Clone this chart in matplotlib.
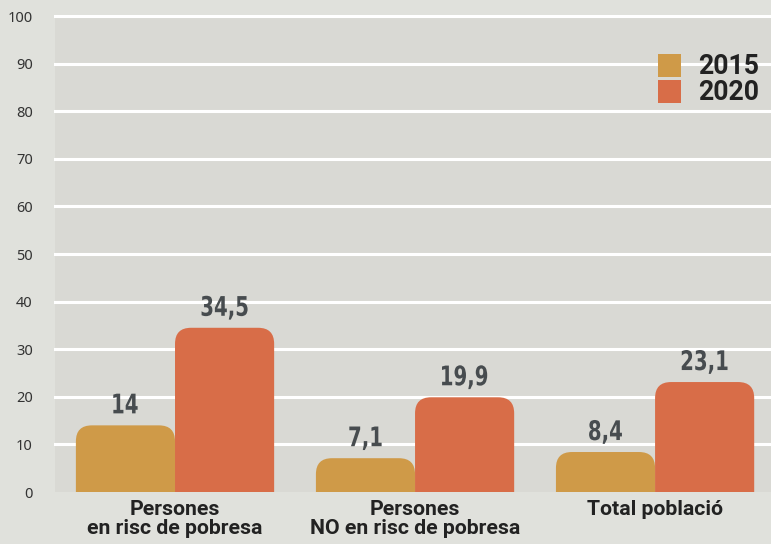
import numpy as np
import matplotlib.pyplot as plt
from matplotlib.patches import FancyBboxPatch, PathPatch
from matplotlib.textpath import TextPath
from matplotlib.font_manager import FontProperties
from matplotlib.transforms import Affine2D, ScaledTranslation

categories = ['Persones\nen risc de pobresa', 'Persones\nNO en risc de pobresa', 'Total població']
years = ['2015', '2020']
values_2015 = [14, 7.1, 8.4]
values_2020 = [34.5, 19.9, 23.1]
labels_2015 = ['14', '7,1', '8,4']
labels_2020 = ['34,5', '19,9', '23,1']
colors = ['#cf9a48', '#d86d48']

W, H = 771, 544
fig = plt.figure(figsize=(W / 100, H / 100), dpi=100)
fig.patch.set_facecolor('#e0e1dc')
ax = fig.add_axes([55 / W, 1 - 492 / H, 716 / W, 476 / H])
ax.set_facecolor('#d9d9d4')

xmin, xmax = -0.5, 2.483
ymin, ymax = 0, 100
ax.set_xlim(xmin, xmax)
ax.set_ylim(ymin, ymax)

# rounded top corners: radius in pixels converted to data units
px_x = 716 / (xmax - xmin)
px_y = 476 / (ymax - ymin)
rad_px = 16
rx = rad_px / px_x
ry = rad_px / px_y

for yv in range(10, 101, 10):
    ax.axhline(yv, color='white', lw=2.2, zorder=1, clip_on=False)

# narrow tall value labels drawn as text paths (no condensed font installed)
fp = FontProperties(family='DejaVu Sans', stretch='condensed', weight='bold')
ref = TextPath((0, 0), '34,5', size=27, prop=fp).get_extents()
sx = 46 / ref.width


def value_label(cx, v, s):
    tp = TextPath((0, 0), s, size=27, prop=fp)
    ext = tp.get_extents()
    tr = (Affine2D().translate(-ext.x0 - ext.width / 2, 0).scale(sx, 1)
          .translate(0, 12) + ScaledTranslation(cx, v, ax.transData))
    ax.add_artist(PathPatch(tp, transform=tr, fc='#474c4f', ec='none', zorder=3))


w = 0.413
x = np.arange(len(categories))
for k, (vals, labs) in enumerate([(values_2015, labels_2015), (values_2020, labels_2020)]):
    for i, (v, lab) in enumerate(zip(vals, labs)):
        cx = x[i] + (k - 0.5) * w
        p = FancyBboxPatch((cx - w / 2, -ry), w, v + ry,
                           boxstyle=f'round,pad=0,rounding_size={rx}',
                           mutation_aspect=ry / rx, fc=colors[k], ec='none',
                           zorder=2, clip_on=True)
        ax.add_patch(p)
        value_label(cx, v, lab)

ax.set_yticks(range(0, 101, 10))
ax.tick_params(axis='y', length=0, pad=16, labelsize=10.5, labelcolor='#333333')
for t in ax.get_yticklabels():
    t.set_family('Noto Sans')
ax.set_xticks(x)
ax.set_xticklabels(categories, family='Roboto', weight='bold', fontsize=15.3,
                   color='#222222', linespacing=0.98)
ax.tick_params(axis='x', length=0, pad=6)
for s in ax.spines.values():
    s.set_visible(False)

# legend
for k, yr in enumerate(years):
    ytop = 54 + k * 26
    fig.patches.append(plt.Rectangle((658 / W, 1 - (ytop + 23) / H), 23 / W, 23 / H,
                                     transform=fig.transFigure, fc=colors[k], ec='none'))
    fig.text(698 / W, 1 - (ytop + 12) / H, yr, family='Roboto', weight='bold',
             fontsize=19.2, color='#222222', va='center', ha='left')

fig.savefig('out.png', dpi=100, facecolor=fig.get_facecolor())
